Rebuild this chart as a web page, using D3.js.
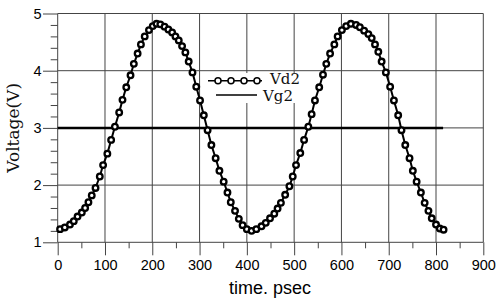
<!DOCTYPE html>
<html>
<head>
<meta charset="utf-8">
<script src="https://cdn.jsdelivr.net/npm/d3@7"></script>
<style>
  body { margin: 0; background: #fff; }
  svg { display: block; }
</style>
</head>
<body>
<div id="graph"></div>
<script>
// sample times (psec) and Vd2 voltages
const vdTime = [5, 15, 26, 34, 42, 51, 58, 65, 72, 80, 89, 96, 105, 113, 121, 130, 137, 145, 154, 161,
  169, 176, 184, 193, 201, 209, 217, 226, 234, 242, 249, 256, 263, 270, 277, 285, 293, 301, 309, 317,
  325, 334, 342, 351, 359, 366, 375, 383, 391, 400, 410, 420, 431, 440, 449, 458, 465, 472, 481, 490,
  497, 504, 513, 521, 530, 537, 544, 553, 561, 568, 576, 585, 592, 601, 610, 620, 631, 639, 648, 657,
  664, 671, 678, 685, 694, 703, 711, 720, 727, 735, 744, 751, 759, 768, 776, 784, 791, 800, 808, 816];
const vd2 = [1.23, 1.26, 1.31, 1.37, 1.45, 1.52, 1.60, 1.70, 1.82, 1.95, 2.15, 2.35, 2.55, 2.79, 3.02, 3.27, 3.49, 3.71, 3.92, 4.12,
  4.30, 4.46, 4.60, 4.71, 4.78, 4.82, 4.81, 4.77, 4.72, 4.67, 4.60, 4.53, 4.43, 4.32, 4.16, 3.97, 3.72, 3.48, 3.22, 2.96,
  2.70, 2.47, 2.25, 2.06, 1.87, 1.70, 1.55, 1.41, 1.30, 1.23, 1.20, 1.23, 1.28, 1.34, 1.42, 1.50, 1.59, 1.69, 1.83, 1.98,
  2.15, 2.35, 2.56, 2.79, 3.02, 3.24, 3.48, 3.71, 3.93, 4.12, 4.30, 4.46, 4.60, 4.71, 4.78, 4.82, 4.80, 4.76, 4.70, 4.64,
  4.57, 4.46, 4.33, 4.16, 3.97, 3.72, 3.48, 3.22, 2.96, 2.70, 2.47, 2.25, 2.06, 1.87, 1.69, 1.55, 1.42, 1.31, 1.24, 1.22];

const vgTime = [0, 815];
const vg2 = [3, 3];

const xTicks = [0, 100, 200, 300, 400, 500, 600, 700, 800, 900];
const xMinor = [50, 150, 250, 350, 450, 550, 650, 750, 850];
const yTicks = [1, 2, 3, 4, 5];
const yMinor = [1.2, 1.4, 1.6, 1.8, 2.2, 2.4, 2.6, 2.8, 3.2, 3.4, 3.6, 3.8, 4.2, 4.4, 4.6, 4.8];

const seriesNames = ["Vd2", "Vg2"];

let w = 500;
let h = 302;

const xScale = d3.scaleLinear().domain([0, 900]).range([57.7, 483.3]);
const yScale = d3.scaleLinear().domain([1, 5]).range([242.3, 13.5]);

const svg = d3.select("#graph")
              .append("svg")
              .attr("width", w)
              .attr("height", h);

// grid
svg.append("g")
   .selectAll("line")
   .data(xTicks)
   .enter()
   .append("line")
   .attr("x1", d => xScale(d)).attr("x2", d => xScale(d))
   .attr("y1", yScale(5)).attr("y2", yScale(1))
   .attr("stroke", "#444").attr("stroke-width", 1);

svg.append("g")
   .selectAll("line")
   .data(yTicks)
   .enter()
   .append("line")
   .attr("x1", xScale(0)).attr("x2", xScale(900))
   .attr("y1", d => yScale(d)).attr("y2", d => yScale(d))
   .attr("stroke", "#444").attr("stroke-width", 1);

// axes
const xAxis = d3.axisBottom(xScale).tickValues(xTicks).tickSize(13).tickPadding(4).tickSizeOuter(0).tickFormat(d3.format("d"));
const xAxisMinor = d3.axisBottom(xScale).tickValues(xMinor).tickSize(6).tickFormat("").tickSizeOuter(0);
const yAxis = d3.axisLeft(yScale).tickValues(yTicks).tickSize(14.7).tickPadding(1.5).tickSizeOuter(0).tickFormat(d3.format("d"));
const yAxisMinor = d3.axisLeft(yScale).tickValues(yMinor).tickSize(7).tickFormat("").tickSizeOuter(0);

function styleAxis(g) {
  g.select(".domain").remove();
  g.selectAll(".tick line").attr("stroke", "#444");
  g.selectAll("text")
   .attr("fill", "#000")
   .style("font-family", "'Liberation Sans', Arial, sans-serif")
   .style("font-size", "14.5px");
}

svg.append("g").attr("transform", `translate(0, ${yScale(1)})`).call(xAxis).call(styleAxis);
svg.append("g").attr("transform", `translate(0, ${yScale(1)})`).call(xAxisMinor).call(styleAxis);
svg.append("g").attr("transform", `translate(${xScale(0)}, 0)`).call(yAxis).call(styleAxis);
svg.append("g").attr("transform", `translate(${xScale(0)}, 0)`).call(yAxisMinor).call(styleAxis);

// axis titles
svg.append("text")
   .attr("transform", `translate(19, ${yScale(3)}) rotate(-90)`)
   .attr("text-anchor", "middle")
   .style("font-family", "'DejaVu Serif', serif")
   .style("font-size", "17px")
   .attr("fill", "#111")
   .text("Voltage(V)");

svg.append("text")
   .attr("x", 270)
   .attr("y", 294)
   .attr("text-anchor", "middle")
   .style("font-family", "'Liberation Sans', Arial, sans-serif")
   .style("font-size", "18px")
   .attr("fill", "#000")
   .text("time. psec");

// Vg2
const line = d3.line().x(d => xScale(d[0])).y(d => yScale(d[1]));
svg.append("path")
   .datum(vgTime.map((t, i) => [t, vg2[i]]))
   .attr("d", line)
   .attr("fill", "none")
   .attr("stroke", "#000")
   .attr("stroke-width", 2.5);

// Vd2
const vdData = vdTime.map((t, i) => [t, vd2[i]]);
svg.append("path")
   .datum(vdData)
   .attr("d", line)
   .attr("fill", "none")
   .attr("stroke", "#000")
   .attr("stroke-width", 2);

svg.append("g")
   .selectAll("circle")
   .data(vdData)
   .enter()
   .append("circle")
   .attr("cx", d => xScale(d[0]))
   .attr("cy", d => yScale(d[1]))
   .attr("r", 2.8)
   .attr("fill", "#fff")
   .attr("stroke", "#000")
   .attr("stroke-width", 2.3);

// legend
const legend = svg.append("g").attr("id", "legend");

legend.append("rect")
      .attr("x", 205).attr("y", 73)
      .attr("width", 95).attr("height", 30)
      .attr("fill", "#fff");

legend.append("line")
      .attr("x1", 208).attr("x2", 262)
      .attr("y1", 80.7).attr("y2", 80.7)
      .attr("stroke", "#000").attr("stroke-width", 1.5);

legend.selectAll("circle")
      .data([218, 231, 244, 257])
      .enter()
      .append("circle")
      .attr("cx", d => d).attr("cy", 80.7)
      .attr("r", 3)
      .attr("fill", "#fff")
      .attr("stroke", "#000")
      .attr("stroke-width", 1.5);

legend.append("line")
      .attr("x1", 216).attr("x2", 257)
      .attr("y1", 95).attr("y2", 95)
      .attr("stroke", "#000").attr("stroke-width", 1.5);

legend.append("text")
      .attr("x", 270).attr("y", 84)
      .style("font-family", "'DejaVu Serif', serif")
      .style("font-size", "15px")
      .attr("fill", "#111")
      .text(seriesNames[0]);

legend.append("text")
      .attr("x", 263).attr("y", 100.5)
      .style("font-family", "'DejaVu Serif', serif")
      .style("font-size", "15px")
      .attr("fill", "#111")
      .text(seriesNames[1]);
</script>
</body>
</html>
